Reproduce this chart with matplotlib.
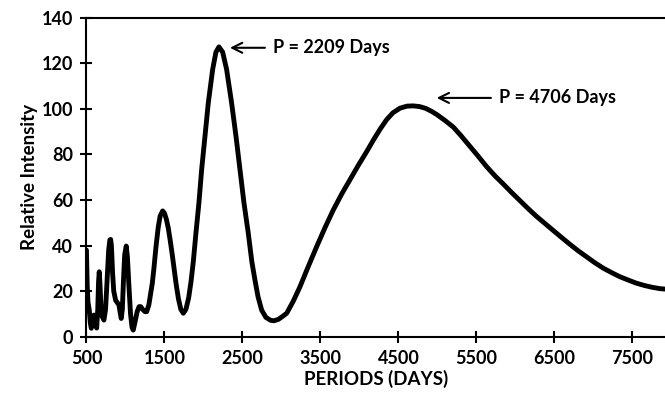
import numpy as np
import matplotlib
matplotlib.use('Agg')
import matplotlib.pyplot as plt

# Periodogram
periods = [500, 510, 520, 535, 550, 562, 580, 596, 612, 631, 645, 655, 664,
           672, 685, 700, 724, 745, 765, 785, 800, 810, 820, 835, 850, 874,
           895, 917, 935, 946, 960, 975, 990, 1010, 1025, 1045, 1065, 1085,
           1100, 1120, 1150, 1175, 1195, 1220, 1250, 1272, 1300, 1344, 1365,
           1390, 1420, 1445, 1477, 1500, 1525, 1550, 1575, 1600, 1625, 1650,
           1680, 1710, 1741, 1775, 1810, 1840, 1870, 1904, 1942, 1977, 2019,
           2062, 2118, 2160, 2199, 2246, 2297, 2361, 2417, 2468, 2519, 2574,
           2620, 2660, 2700, 2746, 2800, 2860, 2904, 2960, 3010, 3067, 3150,
           3237, 3340, 3451, 3560, 3664, 3770, 3878, 3985, 4092, 4180, 4263,
           4349, 4430, 4520, 4610, 4690, 4770, 4850, 4930, 5000, 5100, 5203,
           5300, 5400, 5520, 5631, 5740, 5850, 5950, 6058, 6160, 6270, 6380,
           6485, 6600, 6700, 6800, 6913, 7020, 7130, 7240, 7340, 7450, 7550,
           7650, 7750, 7850, 7917]
intensity = [38, 22, 15, 12, 6, 3.7, 7, 9.5, 7, 3.8, 12, 24, 28.5,
             24, 14, 9, 7.3, 12, 25, 38, 42.5, 42.7, 40, 28, 20, 16,
             15, 13.9, 10, 8, 12, 25, 36, 39.8, 35, 22, 10, 4,
             2.9, 6, 11, 13.2, 13.2, 12, 11, 11, 14, 23.4, 30,
             39, 48, 53, 55.2, 54.2, 51.5, 47.5, 42, 36, 29.5, 23,
             16.5, 12, 10.3, 12, 17, 24, 33, 45.6, 58.8, 73.4, 88,
             102.6, 117.3, 124.9, 127.2, 124.9, 117.3, 102.6, 88, 73.4, 58.8, 45.6,
             33, 24.9, 17.5, 11.7, 8.5, 7.2, 7.0, 7.6, 8.8, 10.3, 15.5,
             21.9, 30.5, 39.5, 48, 55.6, 62.5, 68.9, 75.2, 81.2, 86.4, 91,
             95.3, 98.3, 100.3, 101.2, 101.3, 101, 100.2, 98.8, 97.3, 94.8, 92,
             88.3, 84.2, 79.3, 74.6, 70.5, 66.8, 63.3, 59.7, 56.3, 52.8, 49.6,
             46.6, 43.3, 40.5, 37.8, 35, 32.4, 30, 28, 26.3, 24.8, 23.5,
             22.5, 21.7, 21.1, 20.9]

xticks = [500, 1500, 2500, 3500, 4500, 5500, 6500, 7500]
yticks = [0, 20, 40, 60, 80, 100, 120, 140]

peak_labels = ['P = 2209 Days', 'P = 4706 Days']
peak_tips = [(2340, 126.8), (4990, 104.8)]
label_pos = [(2895, 126.8), (5792, 104.8)]

plt.rcParams['font.family'] = ['Lato', 'DejaVu Sans']
plt.rcParams['font.weight'] = 'bold'

fig = plt.figure(figsize=(6.65, 3.98), dpi=100)
ax = fig.add_axes([0.130, 0.154, 0.870, 0.8015])

ax.plot(periods, intensity, color='black', lw=3.5, solid_joinstyle='round',
        solid_capstyle='round')

for text, tip, pos in zip(peak_labels, peak_tips, label_pos):
    ax.annotate(text, xy=tip, xytext=pos, ha='left', va='center',
                fontsize=13, fontweight='bold',
                arrowprops=dict(arrowstyle='->', lw=1.5, color='black',
                                shrinkA=4, shrinkB=0,
                                mutation_scale=18))

ax.set_xlim(500, 7917)
ax.set_ylim(0, 140)
ax.set_xticks(xticks)
ax.set_yticks(yticks)
ax.tick_params(direction='inout', length=9, width=1.5, labelsize=13)
ax.tick_params(axis='y', pad=5)
ax.tick_params(axis='x', pad=5)
for lab in ax.get_xticklabels() + ax.get_yticklabels():
    lab.set_fontweight('bold')

for side in ['left', 'bottom', 'top']:
    ax.spines[side].set_linewidth(1.5)
ax.spines['right'].set_visible(False)

ax.set_xlabel('PERIODS (DAYS)', fontsize=13.5, fontweight='bold', labelpad=2)
ax.set_ylabel('Relative Intensity', fontsize=13.5, fontweight='bold',
              labelpad=3)

plt.savefig('out.png', dpi=100)
plt.close()
